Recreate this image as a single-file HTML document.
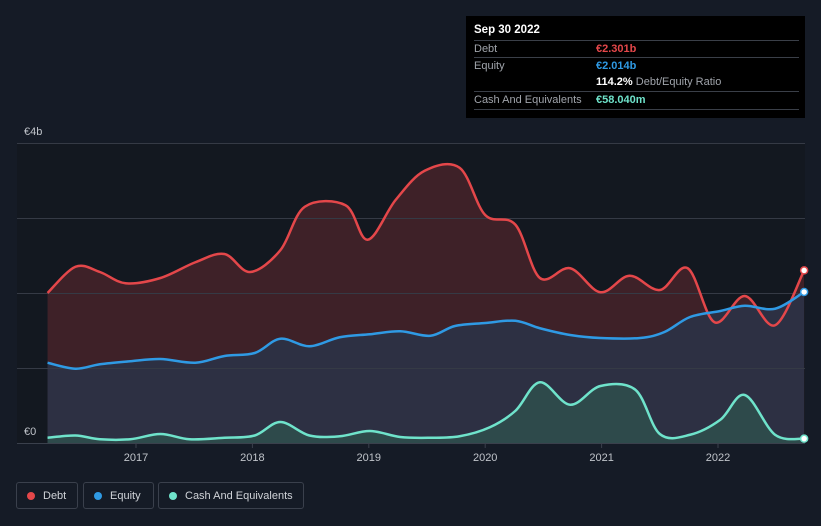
<!DOCTYPE html>
<html><head><meta charset="utf-8"><style>
body{margin:0;background:#151b26;font-family:"Liberation Sans",sans-serif;}
#wrap{position:relative;width:821px;height:526px;overflow:hidden;background:#151b26;}
#tip{position:absolute;left:466px;top:16px;width:339px;height:102px;background:#000;color:#fff;font-size:11px;}
.row{position:absolute;left:8px;right:6px;border-top:1px solid #3a3f48;height:17px;line-height:17px;color:#a0a4ab;}
.v{position:absolute;left:122px;font-weight:bold;}
.leg{position:absolute;top:482px;height:27px;border:1px solid #3a404c;border-radius:3px;color:#d0d3d8;font-size:11px;line-height:27px;box-sizing:border-box;}
.dot{display:inline-block;width:8px;height:8px;border-radius:50%;margin:0 8px 0 10px;vertical-align:-1px;}
</style></head><body>
<div id="wrap">
<svg id="svg" width="821" height="526" style="position:absolute;left:0;top:0"></svg>
<div id="tip">
<div style="position:absolute;left:8px;top:8px;font-weight:bold;font-size:11.5px">Sep 30 2022</div>
<div class="row" style="top:24px">Debt<span class="v" style="color:#e4474a">€2.301b</span></div>
<div class="row" style="top:41px">Equity<span class="v" style="color:#2f9ae4">€2.014b</span></div>
<div style="position:absolute;left:130px;top:60px;color:#a0a4ab"><b style="color:#fff">114.2%</b> Debt/Equity Ratio</div>
<div class="row" style="top:75px">Cash And Equivalents<span class="v" style="color:#6fe3cb">€58.040m</span></div>
<div class="row" style="top:93px"></div>
</div>
<div class="leg" style="left:16px;width:62px"><span class="dot" style="background:#e4474a"></span>Debt</div>
<div class="leg" style="left:83px;width:71px"><span class="dot" style="background:#2f9ae4"></span>Equity</div>
<div class="leg" style="left:158px;width:146px"><span class="dot" style="background:#6fe3cb"></span>Cash And Equivalents</div>
</div>
<script>
const debtX=[2016.24,2016.48,2016.69,2016.91,2017.21,2017.51,2017.76,2017.98,2018.24,2018.45,2018.80,2018.99,2019.23,2019.48,2019.78,2020.0,2020.26,2020.47,2020.73,2020.99,2021.24,2021.50,2021.74,2021.97,2022.23,2022.49,2022.74];
const debtV=[2.0,2.35,2.28,2.13,2.2,2.41,2.52,2.28,2.57,3.15,3.17,2.71,3.24,3.63,3.67,3.04,2.91,2.2,2.33,2.01,2.23,2.04,2.33,1.61,1.96,1.57,2.301];
const eqX=[2016.24,2016.48,2016.69,2016.95,2017.21,2017.51,2017.76,2018.02,2018.24,2018.49,2018.75,2019.01,2019.27,2019.53,2019.74,2020.0,2020.26,2020.47,2020.73,2020.99,2021.33,2021.54,2021.76,2022.02,2022.23,2022.49,2022.74];
const eqV=[1.07,0.99,1.05,1.09,1.12,1.07,1.16,1.2,1.39,1.29,1.41,1.45,1.49,1.43,1.56,1.6,1.63,1.53,1.44,1.4,1.4,1.48,1.68,1.76,1.83,1.79,2.014];
const cashX=[2016.24,2016.48,2016.69,2016.95,2017.21,2017.46,2017.76,2018.02,2018.24,2018.49,2018.75,2019.01,2019.27,2019.53,2019.78,2020.04,2020.26,2020.47,2020.73,2020.99,2021.29,2021.50,2021.76,2022.02,2022.23,2022.49,2022.74];
const cashV=[0.07,0.1,0.05,0.05,0.12,0.05,0.07,0.1,0.28,0.1,0.09,0.16,0.08,0.07,0.09,0.21,0.43,0.81,0.51,0.76,0.71,0.12,0.11,0.31,0.64,0.11,0.058];
const yearTicks=[2017,2018,2019,2020,2021,2022];
const yTicks=[0,1,2,3,4];
const X=t=>136+(t-2017)*116.4, Y=v=>443-v*75;
const svg=document.getElementById('svg'),NS='http://www.w3.org/2000/svg';
function mk(tag,a,name){const e=document.createElementNS(NS,tag);for(const k in a)e.setAttribute(k,a[k]);


svg.appendChild(e);return e;}
mk('rect',{x:17,y:143,width:788,height:300,fill:'#131820'},'plot-bg');
function path(xs,vs){const p=xs.map((x,i)=>[X(x),Y(vs[i])]);let d='M'+p[0][0]+','+p[0][1];
for(let i=0;i<p.length-1;i++){const p0=p[Math.max(i-1,0)],p1=p[i],p2=p[i+1],p3=p[Math.min(i+2,p.length-1)];
const c1=[p1[0]+(p2[0]-p0[0])/6,p1[1]+(p2[1]-p0[1])/6],c2=[p2[0]-(p3[0]-p1[0])/6,p2[1]-(p3[1]-p1[1])/6];
d+=`C${c1[0]},${c1[1]} ${c2[0]},${c2[1]} ${p2[0]},${p2[1]}`;}return d;}
const series=[[debtX,debtV,'#e4474a','#3e2128','debt'],[eqX,eqV,'#2f9ae4','#2d3043','equity'],[cashX,cashV,'#6fe3cb','#2e4a4b','cash']];
const ds=series.map(s=>path(s[0],s[1]));
series.forEach((s,i)=>mk('path',{d:ds[i]+`L${X(s[0][s[0].length-1])},443L${X(s[0][0])},443Z`,fill:s[3]},s[4]+'-area'));
yTicks.forEach(v=>{if(v>0)mk('line',{x1:17,x2:805,y1:Y(v)+0.5,y2:Y(v)+0.5,stroke:'#353a45','stroke-width':1},'gridline');});
mk('line',{x1:17,x2:805,y1:443.5,y2:443.5,stroke:'#3a404c'},'x-axis');
yearTicks.forEach(t=>mk('line',{x1:X(t),x2:X(t),y1:443,y2:448,stroke:'#3a404c'},'x-tick'));
series.forEach((s,i)=>{mk('path',{d:ds[i],fill:'none',stroke:s[2],'stroke-width':2.5},s[4]+'-line');
mk('circle',{cx:X(s[0][s[0].length-1]),cy:Y(s[1][s[1].length-1]),r:3.5,fill:'#fff',stroke:s[2],'stroke-width':1.5},s[4]+'-end-dot');});
yearTicks.forEach(t=>{const e=mk('text',{x:X(t),y:461,fill:'#c0c4ca','font-size':11,'text-anchor':'middle'},'x-tick-label');e.textContent=t;});
const l1=mk('text',{x:24,y:135,fill:'#c0c4ca','font-size':11},'y-label-top');l1.textContent='€4b';
const l0=mk('text',{x:24,y:435,fill:'#c0c4ca','font-size':11},'y-label-zero');l0.textContent='€0';
</script>
</body></html>
